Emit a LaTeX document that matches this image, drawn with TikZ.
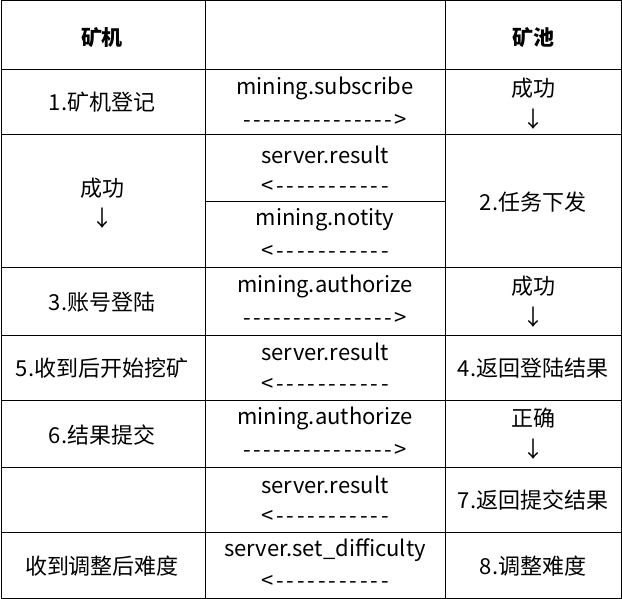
\documentclass[tikz,border=0pt]{standalone}
\usepackage{fontspec}
\setmainfont{Noto Sans CJK SC}[Ligatures=TeXOff]
\usetikzlibrary{positioning}

\tikzset{
  cell/.style={font=\fontsize{22}{26}\selectfont, inner sep=0pt, anchor=center},
  head/.style={cell, font=\fontsize{21}{25}\selectfont\bfseries},
  grid/.style={line width=1pt, black}
}

\begin{document}
\begin{tikzpicture}[x=1pt, y=-1pt]
  \useasboundingbox (0, 0) rectangle (622, 599);

  \def\xa{102} % column centres
  \def\xb{325}
  \def\xc{533}
  \def\rarr{{\addfontfeature{LetterSpace=11}--------------->}}
  \def\larr{{\addfontfeature{LetterSpace=13}<-----------}}

  % grid
  \draw [grid] (1, 1) rectangle (621, 598);
  \foreach \x in {205, 445} {
    \draw [grid] (\x, 1) -- (\x, 598); % column rules
  }
  \foreach \y in {70, 135, 268, 335, 400, 467, 532} {
    \draw [grid] (1, \y) -- (621, \y); % row rules
  }
  \draw [grid] (205, 202) -- (445, 202); % split of the middle cell

  % header
  \node [head] (hMiner) at (\xa, 38) {矿机};
  \node [head] (hPool) at (\xc, 38) {矿池};

  % 1. subscribe
  \node [cell] (a1) at (\xa, 102) {1.矿机登记};
  \node [cell] (m1) at (\xb, 88) {mining.subscribe};
  \node [cell] (r1) at (\xb, 121) {\rarr};
  \node [cell] (p1) at (\xc, 88) {成功};
  \node [cell] (d1) at (\xc, 119) {↓};

  % 2. job
  \node [cell] (a2) at (\xa, 188) {成功};
  \node [cell] (d2) at (\xa, 218) {↓};
  \node [cell] (m2) at (\xb, 155) {server.result};
  \node [cell] (l2) at (\xb, 187) {\larr};
  \node [cell] (m2b) at (\xb, 220) {mining.notity};
  \node [cell] (l2b) at (\xb, 252) {\larr};
  \node [cell] (p2) at (\xc, 202) {2.任务下发};

  % 3. authorize
  \node [cell] (a3) at (\xa, 302) {3.账号登陆};
  \node [cell] (m3) at (\xb, 286) {mining.authorize};
  \node [cell] (r3) at (\xb, 319) {\rarr};
  \node [cell] (p3) at (\xc, 286) {成功};
  \node [cell] (d3) at (\xc, 317) {↓};

  % 4./5. login result
  \node [cell] (a4) at (\xa, 368) {5.收到后开始挖矿};
  \node [cell] (m4) at (\xb, 352) {server.result};
  \node [cell] (l4) at (\xb, 385) {\larr};
  \node [cell] (p4) at (\xc, 368) {4.返回登陆结果};

  % 6. submit
  \node [cell] (a5) at (\xa, 435) {6.结果提交};
  \node [cell] (m5) at (\xb, 418) {mining.authorize};
  \node [cell] (r5) at (\xb, 451) {\rarr};
  \node [cell] (p5) at (\xc, 418) {正确};
  \node [cell] (d5) at (\xc, 449) {↓};

  % 7. submit result
  \node [cell] (m6) at (\xb, 485) {server.result};
  \node [cell] (l6) at (\xb, 517) {\larr};
  \node [cell] (p6) at (\xc, 500) {7.返回提交结果};

  % 8. difficulty
  \node [cell] (a7) at (\xa, 566) {收到调整后难度};
  \node [cell] (m7) at (\xb, 550) {server.set\_difficulty};
  \node [cell] (l7) at (\xb, 582) {\larr};
  \node [cell] (p7) at (\xc, 566) {8.调整难度};
\end{tikzpicture}
\end{document}
